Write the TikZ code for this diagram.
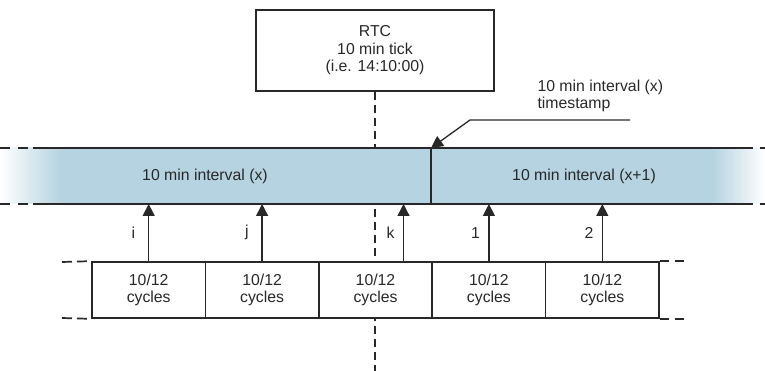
\documentclass[tikz,border=0pt]{standalone}
\usepackage{fontspec}
\setmainfont{Liberation Sans}
\usetikzlibrary{positioning,arrows.meta,calc}

\definecolor{bandblue}{RGB}{181,211,224}
\definecolor{linegray}{RGB}{40,40,40}

\begin{document}
\begin{tikzpicture}[x=1pt, y=-1pt, font=\fontsize{15.8}{17.5}\selectfont, text=linegray,
  box/.style={draw=linegray, line width=1.7pt, fill=white, align=center, inner sep=0pt},
  cyclebox/.style={box, minimum width=113.4pt, minimum height=56pt},
  up/.style={draw=linegray, line width=1.3pt, -{Triangle[length=12pt,width=12pt]}},
  ext/.style={draw=linegray, line width=1.7pt, dash pattern=on 10pt off 8pt},
  tick/.style={draw=linegray, line width=1.3pt, dash pattern=on 8pt off 5pt}]
  \useasboundingbox (0,0) rectangle (765,371);

  \node[box, minimum width=238pt, minimum height=81pt] (rtc) at (375,50.5) {RTC\\10 min tick\\(i.e. 14:10:00)};
  \coordinate (tickend) at (375,371);
  \draw[tick] (rtc.south) -- (tickend);

  % the band of 10 min intervals
  \fill[bandblue] (60,148) rectangle (713,204);
  \shade[left color=white, right color=bandblue] (0,148) rectangle (60.5,204);
  \shade[left color=bandblue, right color=white] (712.5,148) rectangle (765,204);
  \coordinate (bandtop) at (0,148);
  \coordinate (bandbot) at (0,204);
  \draw[linegray, line width=1.7pt] (33,148) -- (753,148) (33,204) -- (753,204);
  \draw[ext] (28,148) -- (0,148) (28,204) -- (0,204);
  \draw[ext] (760,148) -- (765,148) (760,204) -- (765,204);
  \coordinate (div) at (431,148);
  \draw[linegray, line width=1.7pt] (div) -- (div |- bandbot);
  \node (ivx) at (205,176) {10 min interval (x)};
  \node (ivxnext) at (584,176) {10 min interval (x+1)};

  % timestamp
  \node[anchor=west, align=left] (tslbl) at (534,96) {10 min interval (x)\\timestamp};
  \coordinate (tsend) at (630,120);
  \coordinate (tsknee) at (470,120);
  \draw[up] (tsend) -- (tsknee) -- (div);

  % cycles
  \foreach \i in {1,...,5}
    \node[cyclebox] (c\i) at ({148.7+113.4*(\i-1)},290) {10/12\\cycles};
  \draw[ext, dash pattern=on 10pt off 5pt] (62,262) -- (c1.north west) (62,318) -- (c1.south west);
  \draw[ext, dash pattern=on 9pt off 6pt] (c5.north east) -- ++(24,0) (c5.south east) -- ++(24,0);

  \draw[up] (c1.north) -- node[left=9.5pt] {i} (c1.north |- bandbot);
  \draw[up] (c2.north) -- node[left=9.5pt] {j} (c2.north |- bandbot);
  \draw[up] ([xshift=28pt]c3.north) -- node[left=5pt] {k} ([xshift=28pt]c3.north |- bandbot);
  \draw[up] (c4.north) -- node[left=5pt] {1} (c4.north |- bandbot);
  \draw[up] (c5.north) -- node[left=5pt] {2} (c5.north |- bandbot);
\end{tikzpicture}
\end{document}
